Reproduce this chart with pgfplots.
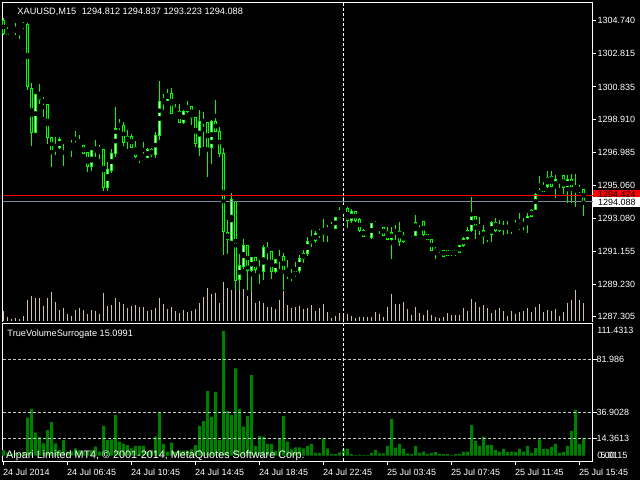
\documentclass[border=0pt]{standalone}
\usepackage{pgfplots}
\pgfplotsset{compat=1.18}
\usepackage{pgfplotstable}
\usepackage{fontspec}
\setmainfont{Liberation Sans}
\definecolor{mtlime}{RGB}{0,255,0}
\definecolor{mtvol}{RGB}{205,195,160}
\definecolor{mtgreen}{RGB}{0,128,0}
\definecolor{mtask}{RGB}{119,136,153}
\definecolor{mtlevel}{RGB}{200,200,200}
\newcommand{\mtfont}{\fontsize{9bp}{10bp}\selectfont}

\pgfplotstableread{
i o h l c
0 1304.78 1304.88 1303.90 1304.00
1 1303.96 1304.39 1303.90 1304.19
2 1304.19 1304.27 1304.09 1304.15
3 1304.15 1304.62 1303.90 1304.17
4 1304.13 1304.33 1303.68 1304.29
5 1304.43 1304.64 1304.23 1304.51
6 1304.55 1304.59 1300.66 1300.86
7 1300.76 1301.05 1297.38 1298.15
8 1298.15 1300.42 1298.11 1300.36
9 1300.36 1301.01 1299.87 1300.11
10 1300.11 1300.27 1299.05 1299.91
11 1299.82 1299.82 1297.48 1297.87
12 1297.85 1297.91 1296.10 1297.09
13 1297.09 1297.91 1296.83 1297.28
14 1297.26 1297.91 1297.18 1297.71
15 1297.71 1297.75 1296.20 1297.56
16 1297.56 1297.62 1297.32 1297.38
17 1297.38 1297.71 1296.73 1297.48
18 1297.48 1298.24 1297.32 1297.38
19 1297.32 1298.01 1297.28 1297.52
20 1297.38 1297.42 1296.89 1296.93
21 1297.01 1297.03 1295.85 1296.14
22 1296.14 1297.11 1295.91 1297.07
23 1297.07 1297.71 1296.73 1297.18
24 1297.18 1297.42 1296.63 1297.20
25 1297.18 1297.20 1294.71 1294.91
26 1294.91 1296.44 1294.73 1295.95
27 1295.95 1297.18 1295.75 1296.93
28 1296.93 1299.68 1296.73 1298.40
29 1298.50 1298.95 1298.30 1298.58
30 1298.60 1298.79 1297.36 1297.56
31 1297.62 1298.30 1297.18 1297.95
32 1297.95 1298.07 1297.22 1297.26
33 1297.26 1297.65 1296.69 1296.73
34 1296.73 1296.91 1296.38 1296.87
35 1296.87 1297.62 1296.65 1296.69
36 1296.69 1297.22 1296.63 1297.18
37 1297.18 1297.26 1296.69 1296.87
38 1296.87 1298.17 1296.69 1297.95
39 1297.97 1301.19 1297.71 1300.01
40 1300.01 1300.42 1299.48 1300.07
41 1300.07 1300.72 1300.01 1300.46
42 1300.46 1300.80 1299.24 1299.28
43 1299.28 1299.82 1299.19 1299.42
44 1299.42 1299.82 1298.69 1298.73
45 1298.73 1299.48 1298.69 1299.38
46 1299.38 1300.01 1299.32 1299.72
47 1299.72 1299.72 1298.60 1299.05
48 1299.05 1299.09 1297.32 1297.52
49 1297.28 1299.52 1296.79 1298.83
50 1298.83 1299.38 1297.32 1298.81
51 1298.75 1298.79 1295.55 1297.22
52 1297.28 1298.89 1296.34 1298.79
53 1298.83 1300.07 1298.20 1298.24
54 1298.24 1298.50 1296.73 1296.93
55 1296.93 1297.28 1290.94 1292.31
56 1292.28 1293.00 1291.00 1291.86
57 1291.82 1294.63 1291.76 1294.18
58 1294.10 1294.14 1288.88 1289.43
59 1289.51 1291.00 1288.88 1290.33
60 1290.25 1291.88 1290.15 1291.51
61 1291.51 1291.55 1288.88 1290.02
62 1290.02 1290.84 1288.78 1290.80
63 1290.80 1290.84 1289.90 1290.10
64 1290.10 1290.65 1289.27 1290.15
65 1289.96 1291.53 1289.47 1291.39
66 1291.39 1291.69 1290.65 1291.14
67 1291.14 1291.18 1289.51 1289.96
68 1289.96 1290.74 1289.90 1290.65
69 1290.65 1291.23 1290.15 1290.84
70 1290.88 1291.04 1288.88 1290.02
71 1289.92 1290.65 1289.51 1289.72
72 1289.70 1290.10 1289.43 1289.68
73 1289.72 1290.55 1289.66 1289.96
74 1290.02 1290.94 1289.90 1290.74
75 1290.74 1291.27 1290.45 1291.04
76 1291.04 1292.02 1290.90 1291.73
77 1291.73 1292.41 1291.43 1291.82
78 1291.78 1292.35 1291.69 1292.18
79 1292.18 1292.47 1291.92 1292.41
80 1292.18 1293.10 1291.73 1292.37
81 1292.37 1292.71 1291.73 1292.47
82 1292.47 1292.90 1292.37 1292.51
83 1292.51 1293.20 1292.45 1293.16
84 1293.16 1293.79 1293.10 1293.39
85 1293.39 1294.34 1293.20 1293.63
86 1293.69 1293.79 1292.51 1293.00
87 1293.00 1293.63 1292.81 1293.49
88 1293.53 1293.53 1292.90 1292.96
89 1293.06 1293.10 1292.31 1292.37
90 1292.41 1292.47 1292.02 1292.06
91 1292.06 1292.12 1291.92 1292.02
92 1291.98 1292.84 1291.92 1292.81
93 1292.81 1292.94 1292.61 1292.69
94 1292.69 1292.77 1292.18 1292.55
95 1292.57 1292.61 1292.06 1292.12
96 1292.31 1292.61 1291.86 1291.88
97 1291.88 1292.61 1290.72 1292.28
98 1292.31 1292.71 1291.82 1292.37
99 1292.35 1292.90 1291.49 1291.73
100 1291.73 1292.31 1291.67 1292.12
101 1292.12 1292.31 1291.98 1292.26
102 1292.14 1292.31 1292.02 1292.28
103 1292.08 1293.30 1292.06 1292.86
104 1292.86 1293.04 1292.61 1292.98
105 1292.94 1292.94 1292.06 1292.12
106 1292.18 1292.18 1291.82 1291.86
107 1291.86 1291.86 1291.20 1291.23
108 1291.23 1291.43 1290.72 1291.14
109 1291.23 1291.43 1291.04 1291.39
110 1291.23 1291.23 1290.84 1290.88
111 1290.94 1291.27 1290.88 1291.20
112 1291.18 1291.23 1290.92 1290.98
113 1290.98 1291.23 1290.90 1291.18
114 1291.08 1291.53 1291.04 1291.47
115 1291.49 1291.98 1291.43 1291.92
116 1291.92 1292.61 1291.86 1292.37
117 1292.37 1294.38 1292.31 1293.34
118 1293.20 1293.24 1291.92 1292.61
119 1292.65 1293.16 1292.12 1292.37
120 1292.37 1292.71 1291.59 1292.02
121 1292.02 1292.22 1291.73 1292.16
122 1292.16 1292.94 1291.69 1292.86
123 1292.86 1293.16 1292.31 1292.37
124 1292.37 1293.00 1292.28 1292.71
125 1292.71 1292.94 1292.12 1292.45
126 1292.51 1292.94 1292.18 1292.67
127 1292.65 1292.71 1292.16 1292.59
128 1292.51 1293.00 1292.45 1292.65
129 1292.51 1293.45 1292.41 1292.71
130 1292.71 1293.10 1292.41 1292.77
131 1292.77 1293.39 1292.26 1293.20
132 1293.24 1293.65 1293.20 1293.59
133 1293.63 1294.61 1293.59 1294.53
134 1294.53 1295.61 1294.47 1294.71
135 1294.67 1295.26 1294.63 1294.97
136 1294.97 1295.89 1294.87 1295.51
137 1295.55 1295.89 1294.97 1295.00
138 1294.91 1295.65 1294.34 1295.42
139 1295.42 1295.65 1294.87 1295.59
140 1295.61 1295.65 1294.57 1294.93
141 1294.91 1295.65 1293.98 1295.40
142 1295.40 1295.69 1293.98 1294.97
143 1294.97 1295.69 1293.79 1294.87
144 1294.87 1295.06 1294.61 1294.75
145 1294.812 1294.837 1293.223 1294.088
}\candles

\pgfplotstableread{
i v
0 10
1 4
2 2
3 3
4 2
5 5
6 21
7 25
8 23
9 23
10 15
11 23
12 29
13 19
14 11
15 13
16 7
17 5
18 11
19 13
20 11
21 7
22 11
23 10
24 7
25 28
26 15
27 16
28 23
29 19
30 17
31 13
32 15
33 16
34 14
35 14
36 10
37 11
38 13
39 23
40 17
41 12
42 14
43 10
44 8
45 11
46 9
47 10
48 12
49 18
50 24
51 33
52 27
53 28
54 18
55 39
56 33
57 31
58 33
59 34
60 32
61 25
62 37
63 18
64 20
65 18
66 14
67 14
68 12
69 21
70 30
71 16
72 13
73 14
74 15
75 12
76 13
77 16
78 10
79 13
80 17
81 9
82 3
83 5
84 8
85 8
86 7
87 5
88 3
89 4
90 4
91 4
92 4
93 9
94 7
95 4
96 14
97 27
98 17
99 17
100 19
101 12
102 6
103 14
104 8
105 6
106 11
107 6
108 4
109 3
110 4
111 8
112 6
113 6
114 6
115 13
116 10
117 22
118 19
119 14
120 16
121 13
122 8
123 11
124 13
125 10
126 5
127 10
128 7
129 9
130 10
131 13
132 9
133 14
134 17
135 9
136 11
137 10
138 12
139 5
140 9
141 18
142 21
143 31
144 21
145 18
}\tickvol

\pgfplotstableread{
i v
0 4.8
1 2.8
2 1.8
3 2.3
4 1.8
5 3.3
6 32.3
7 39.7
8 19.5
9 15.9
10 10.5
11 21.8
12 28.6
13 10.5
14 4.8
15 13.3
16 3.4
17 3.4
18 6.3
19 4.8
20 3.4
21 3.4
22 4.8
23 7.7
24 3.4
25 25.3
26 13.3
27 13.9
28 34.5
29 11.9
30 10.0
31 9.0
32 6.3
33 8.3
34 8.3
35 8.3
36 3.4
37 4.8
38 16.2
39 37.1
40 10.0
41 3.4
42 11.0
43 3.4
44 4.3
45 4.3
46 4.3
47 5.4
48 9.0
49 25.3
50 29.4
51 54.9
52 32.9
53 54.1
54 13.3
55 105.9
56 38.0
57 34.5
58 74.2
59 39.7
60 24.7
61 33.6
62 68.5
63 8.3
64 16.8
65 15.9
66 10.0
67 10.0
68 4.3
69 14.8
70 33.6
71 11.9
72 5.4
73 7.1
74 7.1
75 6.3
76 8.3
77 10.0
78 2.5
79 2.5
80 14.8
81 6.3
82 1.4
83 1.4
84 2.8
85 5.7
86 5.7
87 1.4
88 0.5
89 1.0
90 0.5
91 0.5
92 2.3
93 4.8
94 2.0
95 2.0
96 8.3
97 31.2
98 6.8
99 10.0
100 5.7
101 2.0
102 1.4
103 8.3
104 2.3
105 3.4
106 1.4
107 2.3
108 3.1
109 1.4
110 1.4
111 1.4
112 0.5
113 1.4
114 1.4
115 3.4
116 3.4
117 26.0
118 12.5
119 8.3
120 16.2
121 9.0
122 9.0
123 4.8
124 3.4
125 5.7
126 3.1
127 3.4
128 3.1
129 5.7
130 3.4
131 8.3
132 2.3
133 6.5
134 13.9
135 5.7
136 5.7
137 7.4
138 10.0
139 2.3
140 3.1
141 8.3
142 21.0
143 38.8
144 10.0
145 15.0991
}\tvs

\begin{document}
\begin{tikzpicture}
\useasboundingbox (0,0) rectangle (640bp,480bp);
\fill[black] (0,0) rectangle (640bp,480bp);

% tick volume (main window background)
\begin{axis}[
  at={(2.5bp,477.5bp)}, anchor=north west,
  scale only axis, width=590bp, height=319bp,
  xmin=-0.25, xmax=147.25, ymin=0, ymax=319,
  hide axis]
\addplot[ycomb, mtvol, line width=1bp, mark=none] table[x=i,y=v]{\tickvol};
\end{axis}

% price window
\begin{axis}[
  at={(2.5bp,477.5bp)}, anchor=north west,
  scale only axis, width=590bp, height=319bp,
  xmin=-0.25, xmax=147.25, ymin=1287.022, ymax=1305.812,
  axis line style={draw=none},
  clip=false,
  xtick=\empty,
  ytick={1287.305,1289.230,1291.155,1293.080,1295.060,1296.985,1298.910,1300.835,1302.815,1304.740},
  yticklabels={1287.305,1289.230,1291.155,1293.080,1295.060,1296.985,1298.910,1300.835,1302.815,1304.740},
  ytick pos=right, yticklabel pos=right,
  tick align=outside, major tick length=3bp,
  tick style={white, line width=1bp},
  yticklabel style={white, font=\mtfont, anchor=west, inner sep=0pt, xshift=2bp},
  /pgf/number format/assume math mode=true]
\draw[white, line width=1bp] (rel axis cs:0,0) -- (rel axis cs:0,1) -- (rel axis cs:1,1) -- (rel axis cs:1,0);
% wicks
\addplot[only marks, mark=none,
  error bars/.cd, y dir=both, y explicit, error mark=none,
  error bar style={mtlime, line width=1bp}]
  table[x=i, y expr={(\thisrow{h}+\thisrow{l})/2}, y error expr={(\thisrow{h}-\thisrow{l})/2}]{\candles};
% body outline
\addplot[only marks, mark=none,
  error bars/.cd, y dir=both, y explicit, error mark=none,
  error bar style={mtlime, line width=3bp}]
  table[x=i, y expr={(\thisrow{o}+\thisrow{c})/2}, y error expr={abs(\thisrow{o}-\thisrow{c})/2+0.0295}]{\candles};
% bull body fill (white)
\addplot[only marks, mark=none,
  error bars/.cd, y dir=both, y explicit, error mark=none,
  error bar style={white, line width=1bp}]
  table[x=i, y expr={(\thisrow{o}+\thisrow{c})/2}, y error expr={(\thisrow{c}>\thisrow{o}) ? max(abs(\thisrow{o}-\thisrow{c})/2-0.0295,0) : 0}]{\candles};
% bear body fill (black)
\addplot[only marks, mark=none,
  error bars/.cd, y dir=both, y explicit, error mark=none,
  error bar style={black, line width=1bp}]
  table[x=i, y expr={(\thisrow{o}+\thisrow{c})/2}, y error expr={(\thisrow{c}>\thisrow{o}) ? 0 : max(abs(\thisrow{o}-\thisrow{c})/2-0.0295,0)}]{\candles};
% ask / bid lines
\addplot[red, line width=1bp] coordinates {(-0.25,1294.424) (147.25,1294.424)};
\addplot[mtask, line width=1bp] coordinates {(-0.25,1294.088) (147.25,1294.088)};
% day separator
\addplot[white, line width=1bp, dash pattern=on 3bp off 2bp] coordinates {(85,1287.022) (85,1305.812)};
% price labels
\fill[red] (axis cs:147.45,1294.797) rectangle (axis cs:159.2,1294.238);
\node[anchor=west, inner sep=0pt, font=\mtfont, text=black] at (axis cs:148.6,1294.532) {1294.424};
\fill[white] (axis cs:147.45,1294.356) rectangle (axis cs:159.2,1293.767);
\node[anchor=west, inner sep=0pt, font=\mtfont, text=black] at (axis cs:148.6,1294.061) {1294.088};
\node[anchor=base west, inner sep=0pt, font=\fontsize{9.2bp}{10bp}\selectfont, text=white] at (axis cs:3.45,1305.09) {XAUUSD,M15\hspace*{5.5bp}1294.812 1294.837 1293.223 1294.088};
\end{axis}

% indicator window
\begin{axis}[
  at={(2.5bp,156.5bp)}, anchor=north west,
  scale only axis, width=590bp, height=138bp,
  xmin=-0.25, xmax=147.25, ymin=-4.92, ymax=112.22,
  axis line style={white, line width=1bp},
  clip=false,
  ytick={14.3613,36.9028,81.986},
  yticklabels={14.3613,36.9028,81.986},
  ytick pos=right, yticklabel pos=right,
  xtick={0,16,32,48,64,80,96,112,128,144},
  xticklabels={24 Jul 2014,24 Jul 06:45,24 Jul 10:45,24 Jul 14:45,24 Jul 18:45,24 Jul 22:45,25 Jul 03:45,25 Jul 07:45,25 Jul 11:45,25 Jul 15:45},
  xtick pos=bottom,
  tick align=outside, major tick length=4bp,
  tick style={white, line width=1bp},
  yticklabel style={white, font=\mtfont, anchor=west, inner sep=0pt},
  xticklabel style={white, font=\mtfont, anchor=north west, inner sep=0pt, yshift=-3bp, xshift=-0.5bp},
  /pgf/number format/assume math mode=true]
\addplot[ybar, bar width=3bp, bar shift=0pt, fill=mtgreen, draw=none] table[x=i,y=v]{\tvs};
\addplot[mtlevel, line width=1bp, dash pattern=on 3bp off 2bp] coordinates {(-0.25,81.986) (147.25,81.986)};
\addplot[mtlevel, line width=1bp, dash pattern=on 3bp off 2bp] coordinates {(-0.25,36.9028) (147.25,36.9028)};
\addplot[mtlevel, line width=1bp, dash pattern=on 3bp off 2bp] coordinates {(-0.25,14.3613) (147.25,14.3613)};
\addplot[white, line width=1bp, dash pattern=on 3bp off 2bp] coordinates {(85,-4.92) (85,112.22)};
\node[anchor=west, inner sep=0pt, font=\mtfont, text=white] at (axis cs:148.4,106.1) {111.4313};
\node[anchor=west, inner sep=0pt, font=\mtfont, text=white] at (axis cs:148.4,0.6) {0.00};
\node[anchor=west, inner sep=0pt, font=\mtfont, text=white] at (axis cs:149.2,0.6) {5.0115};
\node[anchor=base west, inner sep=0pt, font=\fontsize{9.2bp}{10bp}\selectfont, text=white] at (axis cs:0.95,101.6) {TrueVolumeSurrogate 15.0991};
\node[anchor=base west, inner sep=0pt, font=\fontsize{10.8bp}{12bp}\selectfont, text=white] at (axis cs:0.63,-2.5) {Alpari Limited MT4, © 2001-2014, MetaQuotes Software Corp.};
\end{axis}
\end{tikzpicture}
\end{document}
